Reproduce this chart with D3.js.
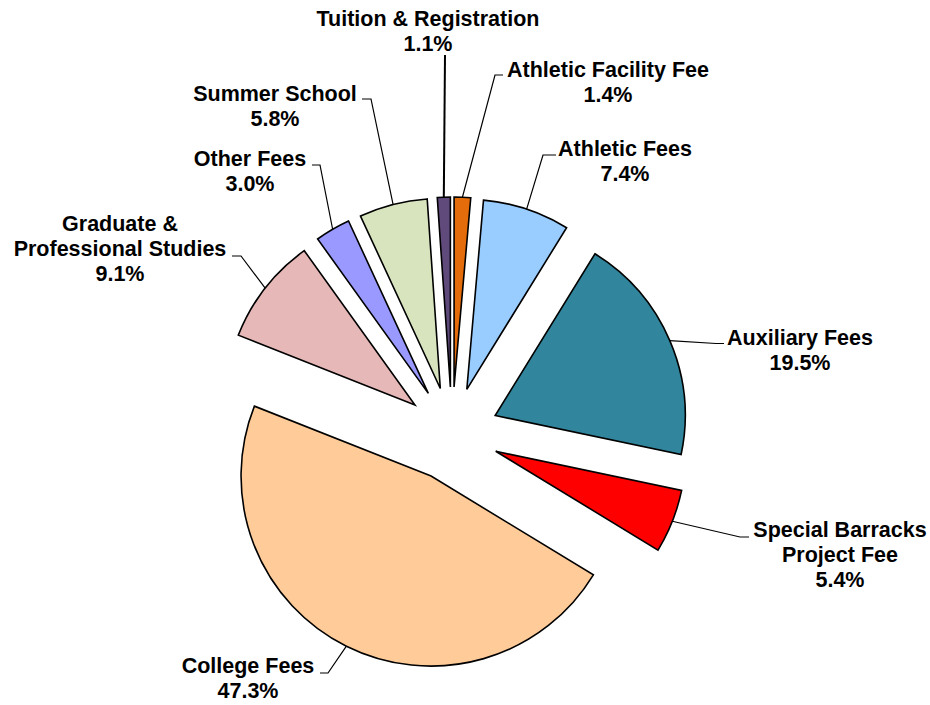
<!DOCTYPE html>
<html>
<head>
<meta charset="utf-8">
<script src="https://cdn.jsdelivr.net/npm/d3@7"></script>
<style>
body { margin: 0; background: #fff; }
text { font-family: "Liberation Sans", Arial, sans-serif; font-weight: bold; font-size: 21.5px; fill: #000; }
</style>
</head>
<body>
<svg width="930" height="705"></svg>
<script>
// Data, clockwise from 12 o'clock
var categories = ["Athletic Facility Fee", "Athletic Fees", "Auxiliary Fees", "Special Barracks Project Fee",
    "College Fees", "Graduate & Professional Studies", "Other Fees", "Summer School", "Tuition & Registration"];
var shares = [1.4, 7.4, 19.5, 5.4, 47.3, 9.1, 3.0, 5.8, 1.1];
var labelLines = [["Athletic Facility Fee"], ["Athletic Fees"], ["Auxiliary Fees"], ["Special Barracks", "Project Fee"],
    ["College Fees"], ["Graduate &", "Professional Studies"], ["Other Fees"], ["Summer School"], ["Tuition & Registration"]];

// Styling / layout
var colors = ["#e46c0a", "#99ccff", "#31859c", "#ff0000", "#ffcc99", "#e6b9b8", "#9999ff", "#d7e4bd", "#604a7b"];
// text centre x, first baseline y, elbow x, elbow y, end x
var labelLayout = [
    [608, 77, 495, 75, 503],
    [625, 156, 543, 155, 556],
    [800, 345, 716, 343.5, 724],
    [840, 537, 740, 537, 749],
    [248, 673, 328, 673, 320],
    [120, 231, 241, 256, 232],
    [250, 166, 320, 165, 312],
    [275, 101, 371, 99, 362],
    [428, 26, 445, 55, 445]
];

var svg = d3.select("svg"),
    cx = 452, cy = 434,
    radius = 190,
    explode = 47,
    lineGap = 25;

var pie = d3.pie().sort(null).value(function (d) { return d; });
var arcs = pie(shares);

var arc = d3.arc().innerRadius(0).outerRadius(radius);
var rimArc = d3.arc().innerRadius(radius).outerRadius(radius);

function offset(d) {
    var mid = (d.startAngle + d.endAngle) / 2;
    return [explode * Math.sin(mid), -explode * Math.cos(mid)];
}

var g = svg.append("g").attr("transform", "translate(" + cx + "," + cy + ")");

// slices
g.selectAll("path.slice")
    .data(arcs)
    .enter()
    .append("path")
    .attr("class", "slice")
    .attr("transform", function (d) {
        var o = offset(d);
        return "translate(" + o[0] + "," + o[1] + ")";
    })
    .attr("d", arc)
    .attr("fill", function (d, i) { return colors[i]; })
    .attr("stroke", "#000")
    .attr("stroke-width", 1.6)
    .attr("stroke-linejoin", "miter");

// leader lines
svg.selectAll("path.leader")
    .data(arcs)
    .enter()
    .append("path")
    .attr("class", "leader")
    .attr("d", function (d, i) {
        var o = offset(d),
            p = rimArc.centroid(d),
            L = labelLayout[i];
        var pts = [[cx + p[0] + o[0], cy + p[1] + o[1]], [L[2], L[3]], [L[4], L[3]]];
        return d3.line()(pts);
    })
    .attr("fill", "none")
    .attr("stroke", "#000")
    .attr("stroke-width", function (d, i) { return i === 8 ? 2 : 1.2; });

// labels
var labels = svg.selectAll("text.label")
    .data(arcs)
    .enter()
    .append("text")
    .attr("class", "label")
    .attr("text-anchor", "middle")
    .attr("x", function (d, i) { return labelLayout[i][0]; })
    .attr("y", function (d, i) { return labelLayout[i][1]; });

labels.each(function (d, i) {
    var t = d3.select(this);
    var lines = labelLines[i].concat([shares[i].toFixed(1) + "%"]);
    lines.forEach(function (s, k) {
        t.append("tspan")
            .attr("x", labelLayout[i][0])
            .attr("dy", k === 0 ? 0 : lineGap)
            .text(s);
    });
});
</script>
</body>
</html>
